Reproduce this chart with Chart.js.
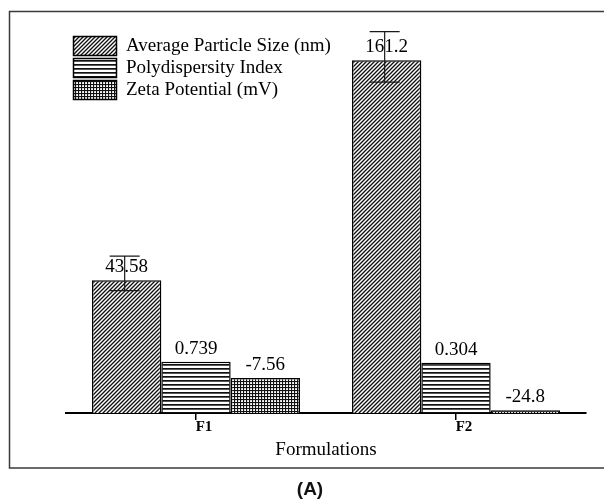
<!DOCTYPE html>
<html>
<head>
<meta charset="utf-8">
<script src="https://cdn.jsdelivr.net/npm/chart.js@4/dist/chart.umd.min.js"></script>
<style>
  html, body { margin: 0; padding: 0; background: #fff; }
  #wrap { width: 604px; height: 501px; }
</style>
</head>
<body>
<div id="wrap"><canvas id="c" width="604" height="501"></canvas></div>
<script>
// ---------- data ----------
const categories = ['F1', 'F2'];
const seriesNames = ['Average Particle Size (nm)', 'Polydispersity Index', 'Zeta Potential (mV)'];
// values printed above the bars
const avgSizeValues = [43.58, 161.2];
const pdiValues = [0.739, 0.304];
const zetaValues = [-7.56, -24.8];
// bar heights as drawn in the figure (the figure's bars are not to scale with the printed values;
// expressed on a scale where the tallest bar = 161.2)
const avgSizeBars = [60.6, 161.2];
const pdiBars = [23.4, 23.0];
const zetaBars = [16.0, 1.2];
// error bars of the particle-size series (same drawn scale)
const avgErrUp = [11.1, 13.0];
const avgErrDown = [4.7, 10.0];
const axisTitle = 'Formulations';
const panelLabel = '(A)';

// ---------- patterns ----------
function makePattern(kind) {
  const t = document.createElement('canvas');
  const s = kind === 'grid' ? 3 : 4;
  t.width = s; t.height = s;
  const g = t.getContext('2d');
  g.fillStyle = '#fff';
  g.fillRect(0, 0, s, s);
  g.strokeStyle = '#111';
  g.fillStyle = '#111';
  if (kind === 'diag') {
    g.lineWidth = 1.35;
    g.beginPath();
    g.moveTo(-1, s + 1); g.lineTo(s + 1, -1);
    g.moveTo(-1, 1); g.lineTo(1, -1);
    g.moveTo(s - 1, s + 1); g.lineTo(s + 1, s - 1);
    g.stroke();
  } else if (kind === 'horiz') {
    g.fillRect(0, 0, s, 1.7);
  } else {
    g.fillRect(0, 0, s, 1.1);
    g.fillRect(0, 0, 1.1, s);
  }
  return g.createPattern(t, 'repeat');
}
const patDiag = makePattern('diag');
const patHoriz = makePattern('horiz');
const patGrid = makePattern('grid');

const valueSets = [avgSizeValues, pdiValues, zetaValues];

// ---------- plugins ----------
const framePlugin = {
  id: 'frame',
  beforeDraw(chart) {
    const ctx = chart.ctx;
    ctx.save();
    ctx.fillStyle = '#fff';
    ctx.fillRect(0, 0, chart.width, chart.height);
    ctx.strokeStyle = '#3a3a3a';
    ctx.lineWidth = 1.5;
    ctx.strokeRect(9.5, 11.5, 620, 456.5);
    ctx.restore();
  },
  afterLayout(chart) {
    const lg = chart.legend;
    if (lg) {
      lg.left = chart.chartArea.left + 4.5;
      lg.top = chart.chartArea.top + 14.5;
    }
  },
  afterDatasetsDraw(chart) {
    const ctx = chart.ctx;
    const yScale = chart.scales.y;
    ctx.save();
    // value labels
    ctx.font = '19px "Liberation Serif", "Times New Roman", serif';
    ctx.fillStyle = '#000';
    ctx.textAlign = 'center';
    ctx.textBaseline = 'middle';
    chart.data.datasets.forEach((ds, di) => {
      const meta = chart.getDatasetMeta(di);
      meta.data.forEach((bar, i) => {
        ctx.fillText(String(valueSets[di][i]), bar.x, bar.y - 13);
      });
    });
    // error bars on the first series
    const meta0 = chart.getDatasetMeta(0);
    ctx.strokeStyle = '#1a1a1a';
    ctx.lineWidth = 1.2;
    meta0.data.forEach((bar, i) => {
      const v = avgSizeBars[i];
      const yTop = yScale.getPixelForValue(v + avgErrUp[i]);
      const yBot = yScale.getPixelForValue(v - avgErrDown[i]);
      const x = bar.x - 2;
      ctx.beginPath();
      ctx.moveTo(x, yTop); ctx.lineTo(x, yBot);
      ctx.moveTo(x - 15, yTop); ctx.lineTo(x + 15, yTop);
      ctx.moveTo(x - 15, yBot); ctx.lineTo(x + 15, yBot);
      ctx.stroke();
    });
    ctx.restore();
  },
  afterDraw(chart) {
    const ctx = chart.ctx;
    ctx.save();
    ctx.font = 'bold 19px "Liberation Sans", Arial, sans-serif';
    ctx.fillStyle = '#111';
    ctx.textAlign = 'center';
    ctx.textBaseline = 'middle';
    ctx.fillText(panelLabel, 310, 490);
    ctx.restore();
  }
};

// ---------- chart ----------
const common = { borderColor: '#000', borderWidth: 1.5, categoryPercentage: 0.8, barPercentage: 1.0 };
new Chart(document.getElementById('c'), {
  type: 'bar',
  data: {
    labels: categories,
    datasets: [
      Object.assign({ label: seriesNames[0], data: avgSizeBars, backgroundColor: patDiag }, common),
      Object.assign({ label: seriesNames[1], data: pdiBars, backgroundColor: patHoriz }, common),
      Object.assign({ label: seriesNames[2], data: zetaBars, backgroundColor: patGrid }, common)
    ]
  },
  options: {
    responsive: false,
    animation: false,
    devicePixelRatio: 1,
    events: [],
    layout: { padding: { left: 66, right: 18, top: 19, bottom: 39.6 } },
    plugins: {
      tooltip: { enabled: false },
      legend: {
        position: 'chartArea',
        align: 'start',
        labels: {
          boxWidth: 43,
          boxHeight: 19,
          padding: 3,
          color: '#000',
          font: { family: '"Liberation Serif", "Times New Roman", serif', size: 19 }
        }
      }
    },
    scales: {
      x: {
        offset: true,
        grid: { display: true, offset: false, drawOnChartArea: false, drawTicks: true, tickLength: 7, color: '#000', lineWidth: 1.5 },
        border: { display: true, color: '#000', width: 2 },
        ticks: {
          color: '#000',
          padding: -2,
          labelOffset: 8,
          font: { family: '"Liberation Serif", "Times New Roman", serif', size: 15, weight: 'bold' }
        },
        title: {
          display: true,
          text: axisTitle,
          color: '#000',
          padding: { top: 4.6, bottom: 0 },
          font: { family: '"Liberation Serif", "Times New Roman", serif', size: 19 }
        }
      },
      y: {
        display: false,
        min: 0,
        max: 180
      }
    }
  },
  plugins: [framePlugin]
});
</script>
</body>
</html>
